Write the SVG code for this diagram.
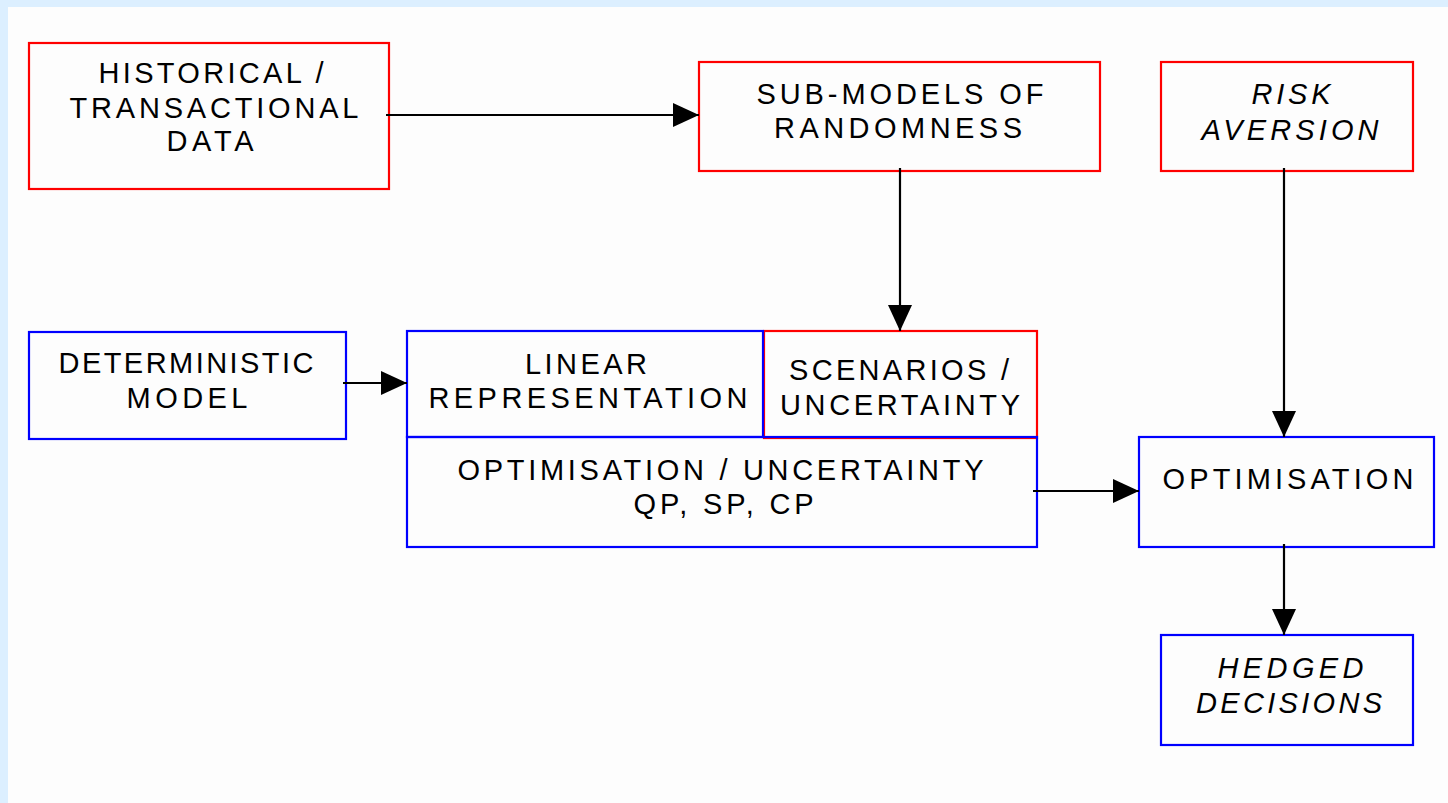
<svg xmlns="http://www.w3.org/2000/svg" width="1448" height="803" viewBox="0 0 1448 803">
  <defs>
    <marker id="arrow" markerUnits="userSpaceOnUse" markerWidth="27" markerHeight="24" refX="26" refY="12" orient="auto">
      <path d="M0,0 L26,12 L0,24 Z" fill="#000"/>
    </marker>
  </defs>
  <style>
    .box { fill: none; stroke-width: 2.2; }
    .red { stroke: #ff0000; }
    .blue { stroke: #0000ff; }
    .lbl { font-family: "Liberation Sans", Arial, sans-serif; font-size: 29px; fill: #000; text-anchor: middle; }
    .it { font-style: italic; }
    .conn { stroke: #000; stroke-width: 2.2; fill: none; marker-end: url(#arrow); }
  </style>

  <!-- page background with light blue frame -->
  <rect x="0" y="0" width="1448" height="803" fill="#dcefff"/>
  <rect x="8" y="7" width="1440" height="796" fill="#fdfdfd"/>

  <g id="historical">
    <rect class="box red" x="29" y="43" width="360" height="146"/>
    <text class="lbl" x="211" y="83" textLength="225" lengthAdjust="spacing">HISTORICAL /</text>
    <text class="lbl" x="214" y="118" textLength="289" lengthAdjust="spacing">TRANSACTIONAL</text>
    <text class="lbl" x="210" y="151" textLength="87" lengthAdjust="spacing">DATA</text>
  </g>

  <g id="submodels">
    <rect class="box red" x="699" y="62" width="401" height="109"/>
    <text class="lbl" x="900" y="104" textLength="287" lengthAdjust="spacing">SUB-MODELS OF</text>
    <text class="lbl" x="898" y="138" textLength="248" lengthAdjust="spacing">RANDOMNESS</text>
  </g>

  <g id="risk-aversion">
    <rect class="box red" x="1161" y="62" width="252" height="109"/>
    <text class="lbl it" x="1291" y="104" textLength="79" lengthAdjust="spacing">RISK</text>
    <text class="lbl it" x="1290" y="140" textLength="177" lengthAdjust="spacing">AVERSION</text>
  </g>

  <g id="deterministic">
    <rect class="box blue" x="29" y="332" width="317" height="107"/>
    <text class="lbl" x="186" y="373" textLength="255" lengthAdjust="spacing">DETERMINISTIC</text>
    <text class="lbl" x="187" y="408" textLength="121" lengthAdjust="spacing">MODEL</text>
  </g>

  <g id="scenarios">
    <rect class="box red" x="764" y="331" width="273" height="107"/>
    <text class="lbl" x="899" y="380" textLength="220" lengthAdjust="spacing">SCENARIOS /</text>
    <text class="lbl" x="900" y="415" textLength="240" lengthAdjust="spacing">UNCERTAINTY</text>
  </g>

  <g id="linear">
    <rect class="box blue" x="407" y="331" width="356" height="106"/>
    <text class="lbl" x="586" y="374" textLength="122" lengthAdjust="spacing">LINEAR</text>
    <text class="lbl" x="588" y="408" textLength="319" lengthAdjust="spacing">REPRESENTATION</text>
  </g>

  <g id="opt-uncertainty">
    <rect class="box blue" x="407" y="437" width="630" height="110"/>
    <text class="lbl" x="720.5" y="480" textLength="526" lengthAdjust="spacing">OPTIMISATION / UNCERTAINTY</text>
    <text class="lbl" x="723.5" y="514" textLength="180" lengthAdjust="spacing">QP, SP, CP</text>
  </g>

  <g id="optimisation">
    <rect class="box blue" x="1139" y="437" width="295" height="110"/>
    <text class="lbl" x="1288" y="489" textLength="251" lengthAdjust="spacing">OPTIMISATION</text>
  </g>

  <g id="hedged">
    <rect class="box blue" x="1161" y="635" width="252" height="110"/>
    <text class="lbl it" x="1290.5" y="678" textLength="146" lengthAdjust="spacing">HEDGED</text>
    <text class="lbl it" x="1289" y="713" textLength="186" lengthAdjust="spacing">DECISIONS</text>
  </g>

  <g id="connectors">
    <path class="conn" d="M386,115 L699,115"/>
    <path class="conn" d="M900,168 L900,331"/>
    <path class="conn" d="M1284,168 L1284,437"/>
    <path class="conn" d="M343,383 L407,383"/>
    <path class="conn" d="M1033,491 L1139,491"/>
    <path class="conn" d="M1284,544 L1284,635"/>
  </g>
</svg>
